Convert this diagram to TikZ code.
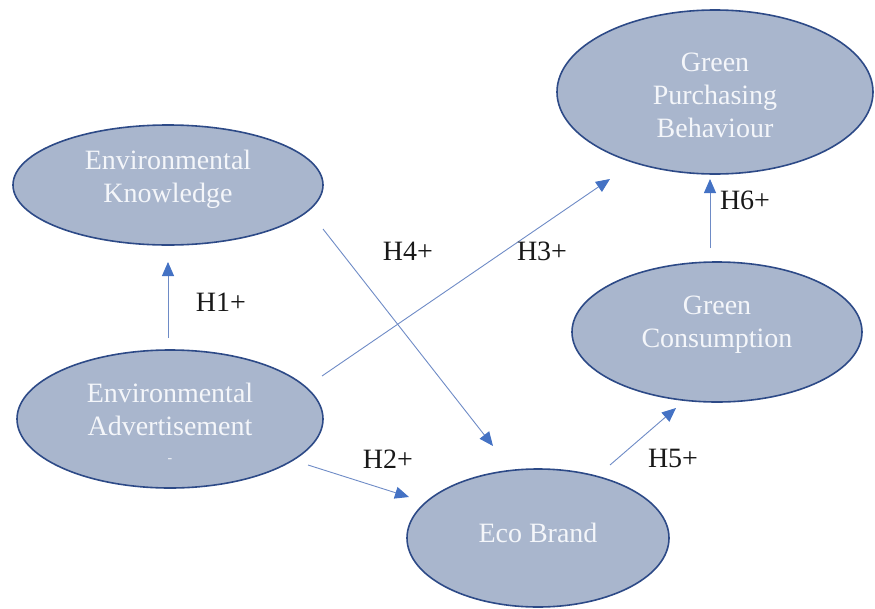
\documentclass[tikz,border=0pt]{standalone}
\usepackage{fontspec}
\setmainfont{Liberation Serif}
\usetikzlibrary{arrows.meta,shapes.geometric}
\definecolor{efill}{HTML}{A9B6CD}
\definecolor{edraw}{HTML}{2D4A87}
\definecolor{aline}{HTML}{6E8BC6}
\definecolor{ahead}{HTML}{4472C4}
\definecolor{etext}{HTML}{F4F6FA}
\tikzset{
  construct/.style={ellipse, draw=edraw, fill=efill, line width=1.6pt, inner sep=0pt},
  ctext/.style={text=etext, align=center, inner sep=0pt, font=\fontsize{28}{33}\selectfont},
  hyp/.style={draw=aline, line width=0.9pt, -{Triangle[length=14pt,width=12pt,fill=ahead,color=ahead]}},
  hlabel/.style={text=black!90, font=\fontsize{28}{33}\selectfont, inner sep=0pt}
}
\begin{document}
\begin{tikzpicture}[x=1pt,y=-1pt]
\useasboundingbox (0,0) rectangle (875,608);
\clip (0,0) rectangle (875,608);
% constructs
\node[construct, minimum width=310pt, minimum height=120pt] (ek) at (168,185) {};
\node[construct, minimum width=306pt, minimum height=138pt] (ea) at (170,419) {};
\node[construct, minimum width=316pt, minimum height=164pt] (gpb) at (715,92) {};
\node[construct, minimum width=290pt, minimum height=140pt] (gc) at (717,332) {};
\node[construct, minimum width=262pt, minimum height=138pt] (eb) at (538,538) {};
% construct texts
\node[ctext] (ekt) at (168,179) {Environmental\\Knowledge};
\node[ctext] (eat) at (170,423) {Environmental\\Advertisement\\[-6pt]{\fontsize{14}{14}\selectfont -}};
\node[ctext] (gpbt) at (715,95) {Green\\Purchasing\\Behaviour};
\node[ctext] (gct) at (717,325) {Green\\Consumption};
\node[ctext] (ebt) at (538,533) {Eco Brand};
% connector end points
\coordinate (h1s) at (168,338); \coordinate (h1e) at (168,262);
\coordinate (h2s) at (308,465); \coordinate (h2e) at (409,497);
\coordinate (h3s) at (322,376); \coordinate (h3e) at (610,179);
\coordinate (h4s) at (323,229); \coordinate (h4e) at (493,446);
\coordinate (h5s) at (610,465); \coordinate (h5e) at (676,408);
\coordinate (h6s) at (710,248); \coordinate (h6e) at (710,179);
% hypotheses
\draw[hyp] (h1s) -- (h1e);
\draw[hyp] (h2s) -- (h2e);
\draw[hyp] (h3s) -- (h3e);
\draw[hyp] (h4s) -- (h4e);
\draw[hyp] (h5s) -- (h5e);
\draw[hyp] (h6s) -- (h6e);
% labels
\node[hlabel] (l1) at (221,302) {H1+};
\node[hlabel] (l2) at (388,459) {H2+};
\node[hlabel] (l3) at (542,251) {H3+};
\node[hlabel] (l4) at (408,251) {H4+};
\node[hlabel] (l5) at (673,458) {H5+};
\node[hlabel] (l6) at (745,200) {H6+};
\end{tikzpicture}
\end{document}
